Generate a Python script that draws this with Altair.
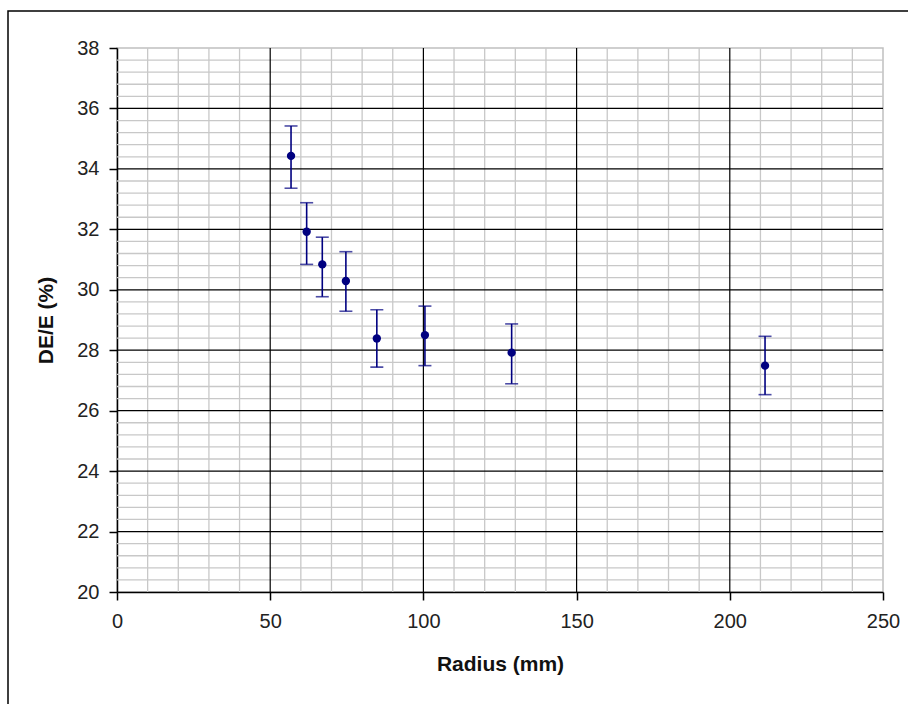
import altair as alt
import pandas as pd

radius = [56.8, 61.9, 67.0, 74.7, 84.8, 100.5, 128.8, 211.5]
de_e = [34.43, 31.92, 30.84, 30.29, 28.39, 28.50, 27.92, 27.49]
err_lo = [33.36, 30.84, 29.77, 29.29, 27.44, 27.49, 26.89, 26.53]
err_hi = [35.42, 32.88, 31.74, 31.26, 29.34, 29.46, 28.87, 28.46]

x_major = [50, 100, 150, 200]
x_minor = [v for v in range(10, 250, 10) if v % 50 != 0]
y_major = [22, 24, 26, 28, 30, 32, 34, 36]
y_minor = [round(20 + 0.4 * i, 1) for i in range(1, 45) if i % 5 != 0]

df = pd.DataFrame({"r": radius, "v": de_e, "lo": err_lo, "hi": err_hi})
xs = alt.Scale(domain=[0, 250], nice=False, zero=False)
ys = alt.Scale(domain=[20, 38], nice=False, zero=False)

FONT = "Liberation Sans"
NAVY = "#000080"

xaxis = alt.Axis(values=[0, 50, 100, 150, 200, 250], grid=False, tickSize=8, tickColor="black",
                 domainColor="black", domainWidth=1.5, tickWidth=1.5, labelFontSize=20,
                 labelFont=FONT, labelColor="#222", labelPadding=11, labelFlush=False,
                 title="Radius (mm)", titleFont=FONT, titleFontSize=21, titleFontWeight="bold",
                 titleColor="#111", titlePadding=22)
yaxis = alt.Axis(values=[20, 22, 24, 26, 28, 30, 32, 34, 36, 38], grid=False, tickSize=8,
                 tickColor="black", domainColor="black", domainWidth=1.5, tickWidth=1.5,
                 labelFontSize=20, labelFont=FONT, labelColor="#222", labelPadding=10,
                 labelFlush=False,
                 title="DE/E (%)", titleFont=FONT, titleFontSize=21, titleFontWeight="bold",
                 titleColor="#111", titlePadding=20)

vminor = alt.Chart(pd.DataFrame({"x": x_minor})).mark_rule(color="#c8c8c8", strokeWidth=1.3).encode(
    x=alt.X("x:Q", scale=xs, axis=xaxis))
hminor = alt.Chart(pd.DataFrame({"y": y_minor})).mark_rule(color="#c8c8c8", strokeWidth=1.3).encode(
    y=alt.Y("y:Q", scale=ys, axis=yaxis))
vmajor = alt.Chart(pd.DataFrame({"x": x_major})).mark_rule(color="black", strokeWidth=1.2).encode(
    x=alt.X("x:Q", scale=xs, axis=xaxis))
hmajor = alt.Chart(pd.DataFrame({"y": y_major})).mark_rule(color="black", strokeWidth=1.2).encode(
    y=alt.Y("y:Q", scale=ys, axis=yaxis))

base = alt.Chart(df)
bars = base.mark_rule(color=NAVY, strokeWidth=1.6).encode(
    x=alt.X("r:Q", scale=xs, axis=xaxis), y=alt.Y("lo:Q", scale=ys, axis=yaxis), y2="hi:Q")
cap_lo = base.mark_tick(color=NAVY, thickness=1.6, size=13, orient="horizontal").encode(
    x=alt.X("r:Q", scale=xs, axis=xaxis), y=alt.Y("lo:Q", scale=ys, axis=yaxis))
cap_hi = base.mark_tick(color=NAVY, thickness=1.6, size=13, orient="horizontal").encode(
    x=alt.X("r:Q", scale=xs, axis=xaxis), y=alt.Y("hi:Q", scale=ys, axis=yaxis))
pts = base.mark_point(filled=True, color=NAVY, size=70, opacity=1, shape="circle").encode(
    x=alt.X("r:Q", scale=xs, axis=xaxis), y=alt.Y("v:Q", scale=ys, axis=yaxis))

frame = alt.Chart(pd.DataFrame({"a": [0]})).mark_rect(
    fill=None, stroke="black", strokeWidth=1.5, clip=False).encode(
    x=alt.value(-109), x2=alt.value(797), y=alt.value(-37), y2=alt.value(666))

chart = alt.layer(vminor, hminor, vmajor, hmajor, bars, cap_lo, cap_hi, pts, frame).properties(
    width=766, height=544,
    autosize=alt.AutoSizeParams(type="none"),
    padding={"left": 117, "top": 48, "right": 25, "bottom": 112},
    background="white",
).configure_view(stroke="#c0c0c0", strokeWidth=1.5)

chart.save("out.html", embed_options={"renderer": "svg", "actions": False})
